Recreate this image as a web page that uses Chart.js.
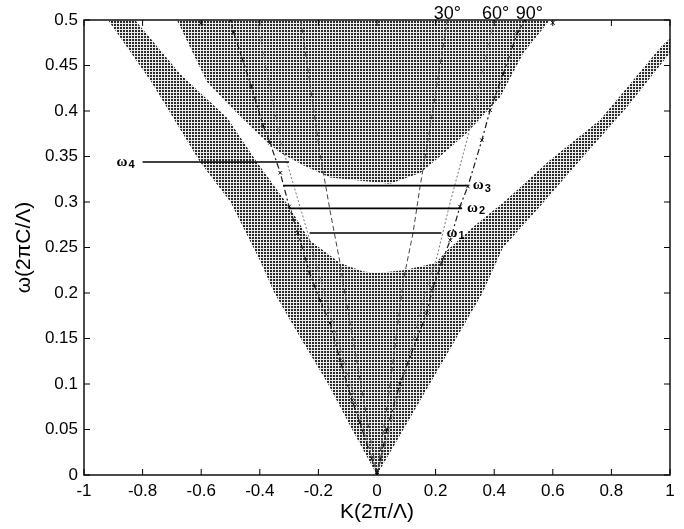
<!DOCTYPE html>
<html>
<head>
<meta charset="utf-8">
<script src="https://cdn.jsdelivr.net/npm/chart.js@4.4.1/dist/chart.umd.min.js"></script>
<style>
  html, body { margin: 0; padding: 0; background: #fff; }
  #wrap { width: 684px; height: 529px; }
</style>
</head>
<body>
<div id="wrap"><canvas id="bands"></canvas></div>
<script>
// outline of the allowed (shaded) region, K and omega pairs
const allowedK = [0, -0.085, -0.167, -0.26, -0.35, -0.40, -0.50, -0.604, -0.77, -0.918, 1.0, 1.0, 0.99, 0.853, 0.693, 0.556, 0.43, 0.36, 0.27, 0.18, 0.09];
const allowedW = [0, 0.05, 0.1, 0.15, 0.2, 0.236, 0.30, 0.344, 0.432, 0.5, 0.5, 0.463, 0.46, 0.404, 0.346, 0.295, 0.25, 0.2, 0.15, 0.1, 0.05];

// band gap (white) cut out of it
const gapK = [-0.826, -0.67, -0.51, -0.41, -0.30, -0.23, -0.126, -0.05, 0, 0.09, 0.20, 0.24, 0.33, 0.44, 0.59, 0.761, 0.973, 1.0, 1.0,
              0.59, 0.50, 0.42, 0.307, 0.215, 0.147, 0.044, -0.16, -0.25, -0.33, -0.376, -0.47, -0.58, -0.683];
const gapW = [0.5, 0.44, 0.392, 0.344, 0.295, 0.258, 0.233, 0.224, 0.222, 0.225, 0.233, 0.247, 0.273, 0.302, 0.346, 0.39, 0.472, 0.48, 0.5,
              0.5, 0.464, 0.415, 0.376, 0.35, 0.332, 0.32, 0.327, 0.34, 0.354, 0.366, 0.395, 0.432, 0.5];

// incidence angle curves
const k90Left = [0, -0.058, -0.085, -0.126, -0.16, -0.195, -0.23, -0.27, -0.30, -0.33, -0.365, -0.39, -0.43, -0.49, -0.50];
const w90Left = [0, 0.057, 0.082, 0.126, 0.167, 0.192, 0.222, 0.266, 0.295, 0.332, 0.365, 0.385, 0.428, 0.487, 0.5];
const k90Right = [0, 0.034, 0.078, 0.113, 0.17, 0.19, 0.22, 0.25, 0.283, 0.31, 0.358, 0.386, 0.43, 0.478, 0.505];
const w90Right = [0, 0.05, 0.1, 0.13, 0.178, 0.205, 0.233, 0.258, 0.295, 0.317, 0.368, 0.401, 0.44, 0.485, 0.5];
const k60Left = [0, -0.09, -0.18, -0.24, -0.33, -0.41];
const w60Left = [0, 0.1, 0.2, 0.27, 0.368, 0.5];
const k60Right = [0, 0.085, 0.165, 0.205, 0.25, 0.307, 0.40];
const w60Right = [0, 0.1, 0.2, 0.24, 0.30, 0.368, 0.5];
const k30Left = [0, -0.055, -0.11, -0.126, -0.16, -0.195, -0.26];
const w30Left = [0, 0.1, 0.2, 0.233, 0.29, 0.354, 0.5];
const k30Right = [0, 0.045, 0.09, 0.123, 0.147, 0.174, 0.24];
const w30Right = [0, 0.1, 0.214, 0.266, 0.317, 0.368, 0.5];
const edgeMarkK = [-0.6, 0.6];
const edgeMarkW = [0.497, 0.497];

// working frequencies
const omegaNames = ["1", "2", "3", "4"];
const omegaLevels = [0.266, 0.293, 0.318, 0.344];
const omegaFrom = [-0.23, -0.30, -0.32, -0.80];
const omegaTo = [0.22, 0.29, 0.31, -0.30];

const angleNames = ["30°", "60°", "90°"];
const angleK = [0.24, 0.405, 0.52];

const pts = (ks, ws) => ks.map((k, i) => ({ x: k, y: ws[i] }));

function makeHatch() {
  const c = document.createElement("canvas");
  c.width = 3;
  c.height = 3;
  const g = c.getContext("2d");
  g.fillStyle = "#ececec";
  g.fillRect(0, 0, 3, 3);
  g.fillStyle = "#2a2a2a";
  g.fillRect(0, 0, 2, 2);
  return g.createPattern(c, "repeat");
}

const fontFamily = "'Liberation Sans', Arial, sans-serif";
const tickFont = { family: fontFamily, size: 17 };
const datasets = [];

datasets.push({
  data: pts(allowedK, allowedW), showLine: true, fill: "shape",
  backgroundColor: makeHatch(), borderWidth: 0, pointRadius: 0, order: 6,
});
datasets.push({
  data: pts(gapK, gapW), showLine: true, fill: "shape",
  backgroundColor: "#ffffff", borderWidth: 0, pointRadius: 0, order: 5,
});

const curveStyle = (dash, colour, width, marks) => ({
  showLine: true, fill: false, borderColor: colour, borderWidth: width, borderDash: dash,
  pointStyle: "crossRot", pointRadius: marks ? 2.5 : 0, pointBorderColor: "#111",
  pointBorderWidth: 1, order: 3,
});
datasets.push({ data: pts(k90Left, w90Left), ...curveStyle([6, 3, 2, 3], "#1a1a1a", 1.2, true) });
datasets.push({ data: pts(k90Right, w90Right), ...curveStyle([6, 3, 2, 3], "#1a1a1a", 1.2, true) });
datasets.push({ data: pts(k60Left, w60Left), ...curveStyle([2, 2], "#777", 1, false) });
datasets.push({ data: pts(k60Right, w60Right), ...curveStyle([2, 2], "#777", 1, false) });
datasets.push({ data: pts(k30Left, w30Left), ...curveStyle([5, 3], "#444", 1, false) });
datasets.push({ data: pts(k30Right, w30Right), ...curveStyle([5, 3], "#444", 1, false) });
datasets.push({
  data: pts(edgeMarkK, edgeMarkW), showLine: false, pointStyle: "crossRot",
  pointRadius: 3, pointBorderColor: "#111", pointBorderWidth: 1, order: 3,
});

omegaLevels.forEach((w, i) => {
  datasets.push({
    data: [{ x: omegaFrom[i], y: w }, { x: omegaTo[i], y: w }],
    showLine: true, fill: false, borderColor: "#000", borderWidth: 1.6,
    pointRadius: 0, order: 1,
  });
});

// box, inward ticks (MATLAB style) and the text annotations
const decorations = {
  id: "decorations",
  afterDraw(chart) {
    const { ctx, chartArea: a, scales } = chart;
    ctx.save();
    ctx.strokeStyle = "#000";
    ctx.lineWidth = 1.4;
    ctx.strokeRect(a.left, a.top, a.right - a.left, a.bottom - a.top);
    ctx.lineWidth = 1;
    ctx.beginPath();
    scales.x.ticks.forEach((t) => {
      const px = scales.x.getPixelForValue(t.value);
      ctx.moveTo(px, a.bottom); ctx.lineTo(px, a.bottom - 6);
      ctx.moveTo(px, a.top); ctx.lineTo(px, a.top + 6);
    });
    scales.y.ticks.forEach((t) => {
      const py = scales.y.getPixelForValue(t.value);
      ctx.moveTo(a.left, py); ctx.lineTo(a.left + 6, py);
      ctx.moveTo(a.right, py); ctx.lineTo(a.right - 6, py);
    });
    ctx.stroke();

    // omega labels
    ctx.fillStyle = "#000";
    ctx.textBaseline = "middle";
    omegaLevels.forEach((w, i) => {
      const py = scales.y.getPixelForValue(w);
      let px;
      if (omegaTo[i] < 0) {
        px = scales.x.getPixelForValue(omegaFrom[i]) - 26;
      } else {
        px = scales.x.getPixelForValue(omegaTo[i]) + 5;
      }
      ctx.font = "bold 15px 'Liberation Serif', serif";
      ctx.textAlign = "left";
      ctx.fillText("ω", px, py);
      ctx.font = "bold 11px 'Liberation Sans', sans-serif";
      ctx.fillText(omegaNames[i], px + 12, py + 3);
    });

    // angle labels above the frame
    ctx.font = "18px " + fontFamily;
    ctx.textAlign = "center";
    ctx.textBaseline = "alphabetic";
    angleNames.forEach((name, i) => {
      ctx.fillText(name, scales.x.getPixelForValue(angleK[i]), a.top - 1);
    });
    ctx.restore();
  },
};

new Chart(document.getElementById("bands"), {
  type: "scatter",
  data: { datasets: datasets },
  options: {
    responsive: true,
    maintainAspectRatio: false,
    animation: false,
    layout: { padding: { top: 20, right: 14, bottom: 0, left: 0 } },
    plugins: { legend: false, tooltip: { enabled: false } },
    scales: {
      x: {
        type: "linear", min: -1, max: 1,
        grid: { display: false, drawTicks: false },
        border: { display: false },
        ticks: {
          stepSize: 0.2, padding: 6, color: "#000", font: tickFont, maxRotation: 0,
          callback: (v) => String(+v.toFixed(2)),
        },
        title: {
          display: true, text: "K(2π/Λ)", color: "#000",
          font: { family: fontFamily, size: 21 },
          padding: { top: 0, bottom: 4 },
        },
        afterFit: (scale) => { scale.height = 54; },
      },
      y: {
        type: "linear", min: 0, max: 0.5,
        grid: { display: false, drawTicks: false },
        border: { display: false },
        ticks: {
          stepSize: 0.05, padding: 6, color: "#000", font: tickFont,
          callback: (v) => String(+v.toFixed(2)),
        },
        title: {
          display: true, text: "ω(2πC/Λ)", color: "#000",
          font: { family: fontFamily, size: 21 },
          padding: { top: 12, bottom: 0 },
        },
        afterFit: (scale) => { scale.width = 84; },
      },
    },
  },
  plugins: [decorations],
});
</script>
</body>
</html>
